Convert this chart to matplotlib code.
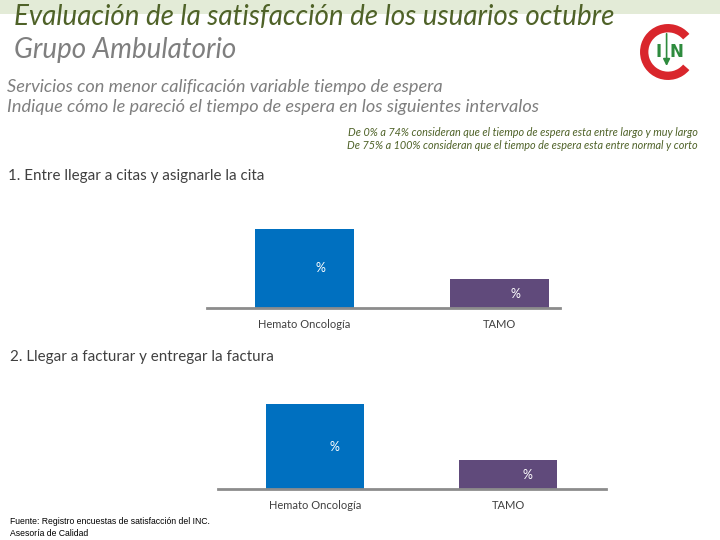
import matplotlib
matplotlib.use("Agg")
import matplotlib.pyplot as plt
from matplotlib.patches import Rectangle, Arc

categories = ["Hemato Oncología", "TAMO"]
values_citas = [85, 31]
values_factura = [91, 31]
bar_labels = ["%", "%"]
bar_colors = ["#0070C0", "#604A7B"]

W, H = 720, 540
fig = plt.figure(figsize=(7.2, 5.4), dpi=100)

def fx(px):
    return px / W

def fy(py):
    return 1 - py / H

# top green band
fig.patches.append(Rectangle((0, fy(14)), 1, 14 / H, transform=fig.transFigure,
                             facecolor="#E3EBD7", edgecolor="none", zorder=0))

tf = "Lato"
fig.text(fx(14), fy(17), "Evaluación de la satisfacción de los usuarios octubre",
         fontsize=20, style="italic", color="#4F6228", family=tf, va="center")
fig.text(fx(14), fy(50), "Grupo Ambulatorio", fontsize=20, style="italic",
         color="#7F7F7F", family=tf, va="center")
fig.text(fx(7), fy(87), "Servicios con menor calificación variable tiempo de espera",
         fontsize=13.1, style="italic", color="#7F7F7F", family=tf, va="center")
fig.text(fx(7), fy(107), "Indique cómo le pareció el tiempo de espera en los siguientes intervalos",
         fontsize=13.1, style="italic", color="#7F7F7F", family=tf, va="center")

fig.text(fx(698), fy(132), "De 0% a 74% consideran que el tiempo de espera esta entre largo y muy largo",
         fontsize=7.8, style="italic", color="#4F6228", family=tf, va="center", ha="right")
fig.text(fx(698), fy(145), "De 75% a 100% consideran que el tiempo de espera esta entre normal y corto",
         fontsize=7.8, style="italic", color="#4F6228", family=tf, va="center", ha="right")

fig.text(fx(8), fy(176), "1. Entre llegar a citas y asignarle la cita",
         fontsize=10.9, color="#404040", family=tf, va="center")
fig.text(fx(10), fy(357), "2. Llegar a facturar y entregar la factura",
         fontsize=10.9, color="#404040", family=tf, va="center")

fig.text(fx(10), fy(522), "Fuente: Registro encuestas de satisfacción del INC.",
         fontsize=6.2, color="#000000", family="Liberation Sans", va="center")
fig.text(fx(10), fy(534), "Asesoría de Calidad",
         fontsize=6.2, color="#000000", family="Liberation Sans", va="center")

# logo
lax = fig.add_axes([fx(640), fy(80), fx(56), 56 / H])
lax.set_xlim(-1, 1)
lax.set_ylim(-1, 1)
lax.set_aspect("equal")
lax.axis("off")
lax.add_patch(Arc((0, 0), 1.7, 1.7, theta1=40, theta2=320, color="#D9262C", lw=6))
lax.text(-0.35, 0.0, "I", fontsize=12, fontweight="bold", color="#2E8B3E",
         ha="center", va="center", family="DejaVu Sans")
lax.text(0.3, 0.0, "N", fontsize=12, fontweight="bold", color="#2E8B3E",
         ha="center", va="center", family="DejaVu Sans")
lax.annotate("", xy=(-0.05, -0.6), xytext=(-0.05, 0.75),
             arrowprops=dict(arrowstyle="-|>", color="#2E8B3E", lw=1.2))


def bar_chart(values, left, right, top, bottom, xlim, lbl_dx):
    ax = fig.add_axes([fx(left), fy(bottom), fx(right - left), (bottom - top) / H])
    xs = list(range(len(categories)))
    ax.bar(xs, values, width=0.51, color=bar_colors)
    ax.set_xlim(*xlim)
    ax.set_ylim(0, 100)
    for s in ["top", "right", "left"]:
        ax.spines[s].set_visible(False)
    ax.spines["bottom"].set_color("#8C8C8C")
    ax.spines["bottom"].set_linewidth(2)
    ax.set_yticks([])
    ax.set_xticks(xs)
    ax.set_xticklabels(categories, fontsize=8, color="#404040", family=tf)
    ax.tick_params(axis="x", length=0, pad=8)
    for x, v, t in zip(xs, values, bar_labels):
        ax.text(x + lbl_dx, v / 2, t, color="white", fontsize=9,
                ha="center", va="center", family=tf)
    return ax

bar_chart(values_citas, 207, 560, 215, 308, (-0.5, 1.31), 0.08)
bar_chart(values_factura, 218, 606, 396, 489, (-0.503, 1.508), 0.1)

fig.savefig("out.png", dpi=100)
